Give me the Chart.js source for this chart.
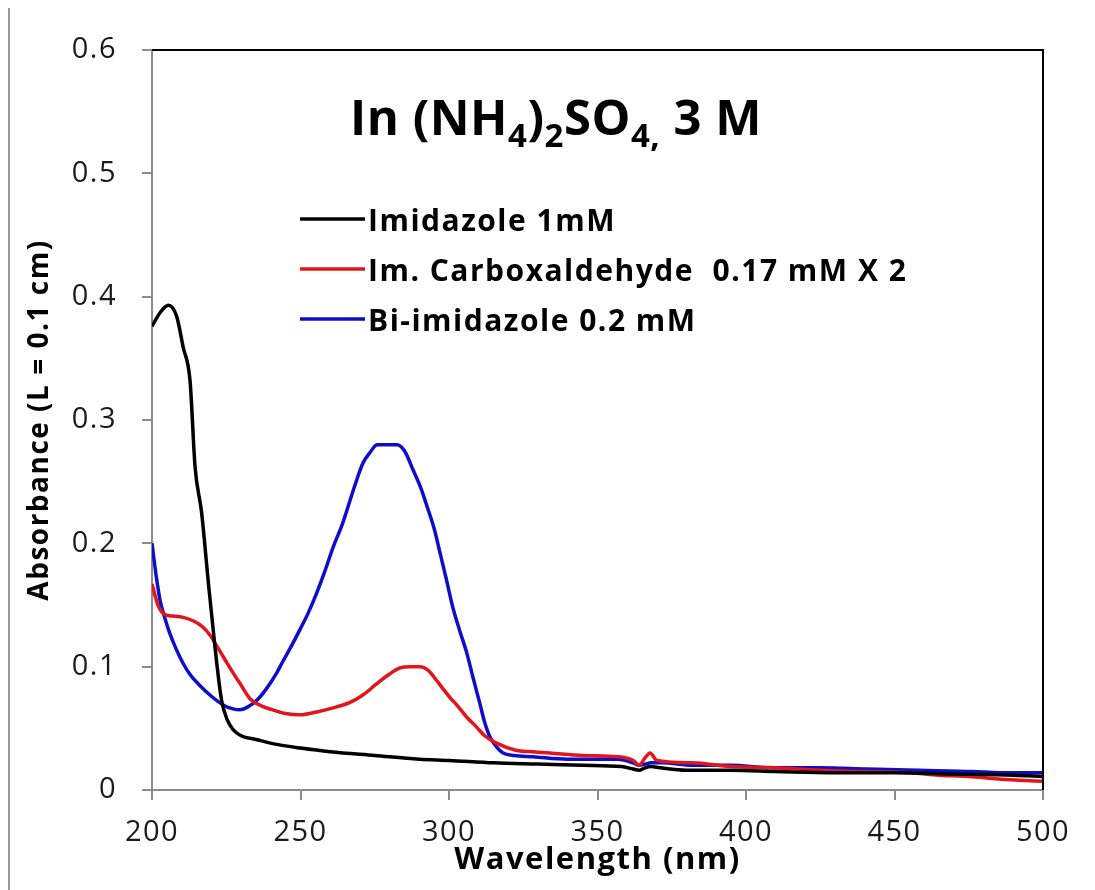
<!DOCTYPE html>
<html>
<head>
<meta charset="utf-8">
<script src="https://cdn.jsdelivr.net/npm/chart.js@4"></script>
<style>
  body { margin: 0; background: #fff; }
  canvas { display: block; }
</style>
</head>
<body>
<canvas id="myChart" width="1095" height="890"></canvas>
<script>
// wavelength (nm) / absorbance
const imidazoleX = [200, 202.7, 205.5, 208.3, 210.5, 212.8, 214.5, 216.7, 218.9, 221.2, 223.4, 225.5, 227.3, 230, 235, 242, 250, 260, 275, 290, 300, 315, 330, 345, 358, 362, 364, 366, 368, 371, 380, 395, 410, 430, 450, 470, 490, 500];
const imidazoleY = [0.376, 0.387, 0.393, 0.384, 0.359, 0.332, 0.262, 0.225, 0.170, 0.116, 0.073, 0.056, 0.049, 0.044, 0.041, 0.037, 0.034, 0.031, 0.028, 0.025, 0.024, 0.022, 0.021, 0.020, 0.019, 0.017, 0.016, 0.018, 0.019, 0.018, 0.016, 0.016, 0.015, 0.014, 0.014, 0.013, 0.012, 0.011];

const carboxX = [200, 202, 204.5, 207, 210.5, 214, 217.2, 220, 222, 225, 227.3, 230, 233, 237, 240.7, 245, 249.8, 255, 260, 266.7, 271, 275.6, 280, 283.5, 287, 290.2, 293, 295.8, 298, 300.3, 302.6, 306, 309.3, 312, 316, 322.8, 328, 334, 345, 357, 362, 364, 366, 367.7, 370, 382, 395, 410, 425, 440, 455, 465, 475, 485, 492, 500];
const carboxY = [0.167, 0.150, 0.142, 0.141, 0.140, 0.137, 0.132, 0.124, 0.116, 0.104, 0.095, 0.085, 0.074, 0.068, 0.065, 0.062, 0.061, 0.063, 0.066, 0.071, 0.077, 0.086, 0.094, 0.099, 0.100, 0.100, 0.097, 0.089, 0.082, 0.075, 0.069, 0.059, 0.051, 0.044, 0.038, 0.032, 0.031, 0.030, 0.028, 0.027, 0.024, 0.020, 0.026, 0.030, 0.024, 0.022, 0.019, 0.018, 0.016, 0.015, 0.014, 0.012, 0.011, 0.009, 0.008, 0.007];

const biimidX = [200, 201.5, 202.7, 204.5, 206, 208, 210.4, 213, 216, 220, 223.9, 227, 229.6, 232, 235.4, 238.5, 242, 244, 247, 249.8, 252.5, 255.5, 258, 261, 264, 266.7, 269, 271, 273.5, 275.8, 279, 282.5, 285, 288, 290.5, 292.6, 295, 297, 299, 301.3, 303.5, 306, 308, 310.4, 312, 313.8, 316, 318.2, 322, 328.3, 340, 357, 362, 364, 366, 368, 372, 382, 395, 408, 425, 440.7, 458, 476.5, 485.5, 492, 500];
const biimidY = [0.200, 0.172, 0.154, 0.138, 0.127, 0.115, 0.103, 0.093, 0.085, 0.076, 0.069, 0.066, 0.065, 0.067, 0.073, 0.082, 0.095, 0.104, 0.117, 0.130, 0.143, 0.160, 0.176, 0.197, 0.215, 0.235, 0.252, 0.265, 0.274, 0.280, 0.280, 0.280, 0.275, 0.259, 0.245, 0.230, 0.212, 0.192, 0.172, 0.148, 0.130, 0.111, 0.092, 0.070, 0.055, 0.043, 0.035, 0.030, 0.028, 0.027, 0.025, 0.025, 0.022, 0.020, 0.021, 0.022, 0.022, 0.020, 0.020, 0.018, 0.018, 0.017, 0.016, 0.015, 0.014, 0.014, 0.014];

const seriesNames = ['Imidazole 1mM', 'Im. Carboxaldehyde  0.17 mM X 2', 'Bi-imidazole 0.2 mM'];
const seriesColors = ['#000000', '#e3141b', '#0d0dcc'];
const xTickLabels = ['200', '250', '300', '350', '400', '450', '500'];
const yTickLabels = ['0', '0.1', '0.2', '0.3', '0.4', '0.5', '0.6'];
// title pieces: [text, subscript?]
const titleParts = [['In (NH', false], ['4', true], [')', false], ['2', true], ['SO', false], ['4,', true], [' 3 M', false]];

const toPoints = (xs, ys) => xs.map((x, i) => ({ x: x, y: ys[i] }));

const tickFont = { family: 'Open Sans', size: 29 };

// top + right frame lines, plus the grey edge of the original picture
const framePlugin = {
    id: 'frame',
    beforeDraw(chart) {
        const c = chart.ctx;
        c.letterSpacing = '1.5px'; // the original text is a bit wider
        c.save();
        c.strokeStyle = '#9a9a9a';
        c.lineWidth = 2;
        c.beginPath();
        c.moveTo(9, 8);
        c.lineTo(9, 890);
        c.stroke();
        c.restore();
    },
    afterDatasetsDraw(chart) {
        const a = chart.chartArea;
        const c = chart.ctx;
        c.save();
        c.strokeStyle = '#000';
        c.lineWidth = 2;
        c.beginPath();
        c.moveTo(a.left, a.top);
        c.lineTo(a.right, a.top);
        c.lineTo(a.right, a.bottom);
        c.stroke();
        c.restore();
    }
};

const titlePlugin = {
    id: 'subTitle',
    afterDraw(chart) {
        const c = chart.ctx;
        c.save();
        c.letterSpacing = '0.5px';
        c.fillStyle = '#000';
        c.textBaseline = 'alphabetic';
        let x = 350;
        const base = 135;
        titleParts.forEach(([t, sub]) => {
            c.font = sub ? 'bold 33px "Open Sans"' : 'bold 49px "Open Sans"';
            c.fillText(t, x, sub ? base + 12 : base);
            x += c.measureText(t).width;
        });
        c.restore();
    }
};

const legendPlugin = {
    id: 'insideLegend',
    afterDraw(chart) {
        const c = chart.ctx;
        c.save();
        c.letterSpacing = '1.5px';
        c.font = 'bold 30px "Open Sans"';
        c.textBaseline = 'alphabetic';
        const rows = [219, 269, 319];
        chart.data.datasets.forEach((ds, i) => {
            c.strokeStyle = ds.borderColor;
            c.lineWidth = 3.5;
            c.beginPath();
            c.moveTo(300, rows[i]);
            c.lineTo(365, rows[i]);
            c.stroke();
            c.fillStyle = '#000';
            c.fillText(ds.label, 368, rows[i] + 12);
        });
        c.restore();
    }
};

const ctx = document.getElementById('myChart');

new Chart(ctx, {
    type: 'line',
    data: {
        datasets: [
            { label: seriesNames[0], data: toPoints(imidazoleX, imidazoleY), borderColor: seriesColors[0] },
            { label: seriesNames[1], data: toPoints(carboxX, carboxY), borderColor: seriesColors[1] },
            { label: seriesNames[2], data: toPoints(biimidX, biimidY), borderColor: seriesColors[2] },
        ]
    },
    options: {
        responsive: false,
        animation: false,
        devicePixelRatio: 1,
        layout: { padding: { top: 50, right: 52, left: 0, bottom: 0 } },
        elements: {
            point: { radius: 0 },
            line: { borderWidth: 3.5, cubicInterpolationMode: 'monotone', borderJoinStyle: 'round' }
        },
        plugins: {
            legend: { display: false },
            tooltip: { enabled: false }
        },
        scales: {
            x: {
                type: 'linear',
                min: 200,
                max: 500,
                afterFit(scale) { scale.height = 100; },
                ticks: {
                    stepSize: 50,
                    padding: 15,
                    color: '#1a1a1a',
                    font: tickFont,
                    maxRotation: 0,
                    callback: (v) => xTickLabels[(v - 200) / 50]
                },
                grid: { drawOnChartArea: false, tickLength: 10, color: '#8c8c8c', lineWidth: 2 },
                border: { color: '#8c8c8c', width: 2 },
                title: {
                    display: true, text: 'Wavelength (nm)', color: '#000',
                    font: { family: 'Open Sans', size: 31, weight: 'bold', lineHeight: 1.2 },
                    padding: { top: 0, bottom: 11 }
                }
            },
            y: {
                min: 0,
                max: 0.6,
                afterFit(scale) { scale.width = 152; },
                ticks: {
                    stepSize: 0.1,
                    padding: 25,
                    color: '#1a1a1a',
                    font: tickFont,
                    callback: (v) => yTickLabels[Math.round(v * 10)]
                },
                grid: { drawOnChartArea: false, tickLength: 10, color: '#8c8c8c', lineWidth: 2 },
                border: { color: '#8c8c8c', width: 2 },
                title: {
                    display: true, text: 'Absorbance (L = 0.1 cm)', color: '#000',
                    font: { family: 'Open Sans', size: 28, weight: 'bold', lineHeight: 1.2 },
                    padding: { top: 23, bottom: 0 }
                }
            }
        }
    },
    plugins: [framePlugin, titlePlugin, legendPlugin]
});
</script>
</body>
</html>
